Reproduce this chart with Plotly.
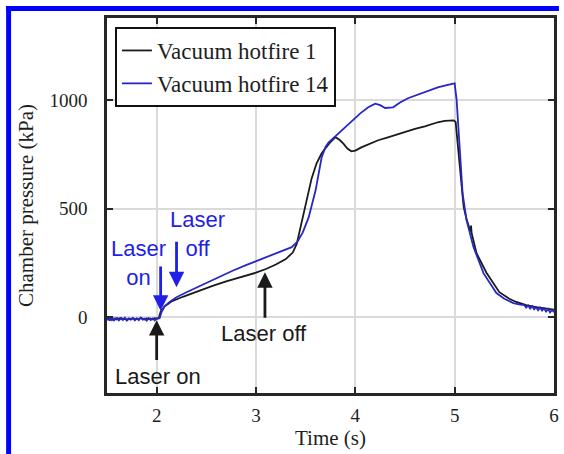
import plotly.graph_objects as go

# ---- data: chamber pressure traces (time in s, pressure in kPa) ----
t_hf1 = [1.50, 1.52, 1.54, 1.56, 1.58, 1.60, 1.62, 1.64, 1.66, 1.68, 1.70, 1.72, 1.74,
         1.76, 1.78, 1.80, 1.82, 1.84, 1.86, 1.88, 1.90, 1.92, 1.94, 1.96, 1.98, 2.00,
         2.02, 2.04, 2.08, 2.15, 2.27, 2.40, 2.57, 2.70, 2.84, 3.00, 3.10, 3.20, 3.30,
         3.37, 3.41, 3.45, 3.50, 3.56, 3.61, 3.66, 3.70, 3.75, 3.80, 3.84, 3.88, 3.92,
         3.96, 4.00, 4.06, 4.15, 4.23, 4.32, 4.40, 4.53, 4.60, 4.70, 4.83, 4.90, 4.99,
         5.01, 5.03, 5.06, 5.09, 5.12, 5.15, 5.16, 5.165, 5.17, 5.22, 5.32, 5.45, 5.55,
         5.62, 5.72, 5.82, 5.90, 6.00]
p_hf1 = [-7, -10, -5, -9, -6, -11, -7, -4, -9, -8, -12, -6, -9,
         -5, -10, -7, -9, -4, -8, -11, -6, -9, -7, -10, -5, -8,
         -6, 25, 50, 72, 95, 118, 145, 165, 183, 205, 222, 243, 268,
         298, 338, 420, 530, 640, 710, 755, 780, 808, 830, 818, 800, 778,
         765, 768, 783, 800, 816, 828, 840, 857, 868, 880, 899, 905, 908,
         900, 800, 645, 510, 450, 405, 395, 422, 390, 295, 205, 115, 85,
         70, 55, 46, 40, 35]

t_hf14 = [1.50, 1.51, 1.52, 1.53, 1.54, 1.55, 1.56, 1.57, 1.58, 1.59, 1.60, 1.62, 1.64,
          1.66, 1.68, 1.70, 1.72, 1.74, 1.76, 1.78, 1.80, 1.82, 1.84, 1.86, 1.88, 1.90,
          1.92, 1.94, 1.96, 1.98, 2.00, 2.03, 2.05, 2.08, 2.13, 2.20, 2.30, 2.44, 2.60,
          2.77, 2.90, 3.06, 3.20, 3.36, 3.42, 3.47, 3.53, 3.60, 3.66, 3.70, 3.73, 3.80,
          3.88, 3.96, 4.05, 4.13, 4.20, 4.25, 4.30, 4.38, 4.45, 4.53, 4.65, 4.75, 4.83,
          4.92, 5.00, 5.02, 5.04, 5.06, 5.08, 5.12, 5.19, 5.29, 5.42, 5.50, 5.59, 5.66,
          5.70, 5.72, 5.74, 5.76, 5.78, 5.80, 5.82, 5.84, 5.86, 5.88, 5.90, 5.92, 5.94,
          5.96, 5.98, 6.00]
p_hf14 = [-4, -14, -6, -16, -3, -13, -7, -17, -5, -12, -2, -15, -6,
          -13, -3, -16, -8, -12, -4, -15, -6, -14, -2, -12, -7, -16,
          -4, -13, -6, -15, -5, -5, 25, 50, 70, 92, 115, 145, 180,
          215, 240, 268, 292, 323, 350, 390, 460, 585, 735, 785, 805, 835,
          870, 905, 940, 968, 985, 978, 965, 968, 990, 1010, 1030, 1048, 1060,
          1070, 1078, 1000, 850, 700, 570, 447, 323, 203, 111, 85, 65, 58,
          56, 44, 54, 40, 50, 36, 46, 32, 44, 30, 40, 26, 38,
          22, 33, 23]

series_names = ["Vacuum hotfire 1", "Vacuum hotfire 14"]
x_ticks = [2, 3, 4, 5, 6]
y_ticks = [0, 500, 1000]
y_tick_labels = ["0", "500", "1000"]

BLACK = "#1a1a1a"
BLUE_LINE = "#2727c4"
BLUE_TEXT = "#1f1fe6"
FRAME_BLUE = "#0000ff"
TEXT = "#1e1e1e"

# plot-area geometry in pixels
W_FIG, H_FIG = 564, 454
L, R, T, B = 107, 559, 18, 393


def px_x(px):
    return (px - L) / (R - L)


def px_y(py):
    return (B - py) / (B - T)


fig = go.Figure()
fig.add_trace(go.Scatter(x=t_hf1, y=p_hf1, mode="lines", name=series_names[0],
                         line=dict(color=BLACK, width=1.8)))
fig.add_trace(go.Scatter(x=t_hf14, y=p_hf14, mode="lines", name=series_names[1],
                         line=dict(color=BLUE_LINE, width=1.8)))

serif = "Liberation Serif"
sans = "Liberation Sans"

axis_common = dict(
    showline=True, linecolor="#262626", linewidth=2.5, mirror="ticks",
    ticks="inside", ticklen=6, tickwidth=2, tickcolor="#262626",
    showgrid=True, gridcolor="#dadada", gridwidth=1.5, zeroline=False,
    tickfont=dict(family=serif, size=19, color=TEXT),
)

fig.update_layout(
    width=W_FIG, height=H_FIG,
    margin=dict(l=L, r=W_FIG - R, t=T, b=H_FIG - B),
    paper_bgcolor="white", plot_bgcolor="white",
    xaxis=dict(range=[1.5, 6], tickvals=x_ticks, ticklabelstandoff=3,
               title=dict(text="Time (s)", font=dict(family=serif, size=21, color=TEXT),
                          standoff=5),
               **axis_common),
    yaxis=dict(range=[-350, 1380], tickvals=y_ticks, ticktext=y_tick_labels,
               ticklabelstandoff=13,
               title=dict(text="Chamber pressure (kPa)",
                          font=dict(family=serif, size=21, color=TEXT), standoff=11),
               **axis_common),
    legend=dict(x=px_x(115), y=px_y(27), xanchor="left", yanchor="top",
                bgcolor="white", bordercolor="#111111", borderwidth=2,
                font=dict(family=serif, size=23, color=TEXT),
                tracegroupgap=0, itemwidth=30),
    showlegend=True,
)

# blue frame along the top and left edges of the figure
fig.add_shape(type="rect", xref="paper", yref="paper",
              x0=px_x(5), x1=px_x(564), y0=px_y(11), y1=px_y(6),
              fillcolor=FRAME_BLUE, line=dict(width=0), layer="above")
fig.add_shape(type="rect", xref="paper", yref="paper",
              x0=px_x(5), x1=px_x(10), y0=px_y(454), y1=px_y(6),
              fillcolor=FRAME_BLUE, line=dict(width=0), layer="above")

# event markers: arrows
arrows = [
    # (x tip, y tip, y tail, colour)
    (2.0, -14, -205, BLACK),      # laser on, hotfire 1
    (3.09, 207, -10, BLACK),      # laser off, hotfire 1
    (2.04, 30, 240, BLUE_TEXT),   # laser on, hotfire 14
    (2.20, 138, 355, BLUE_TEXT),  # laser off, hotfire 14
]
for xt, yt, ytail, col in arrows:
    fig.add_annotation(x=xt, y=yt, ax=xt, ay=ytail, axref="x", ayref="y",
                       text="", showarrow=True, arrowhead=2, arrowsize=1.1,
                       arrowwidth=2.8, arrowcolor=col)

# event markers: labels
labels = [
    (2.01, -276, "Laser on", BLACK),
    (3.08, -74, "Laser off", BLACK),
    (1.82, 249, "Laser<br>on", BLUE_TEXT),
    (2.41, 382, "Laser<br>off", BLUE_TEXT),
]
for xl, yl, txt, col in labels:
    fig.add_annotation(x=xl, y=yl, text=txt, showarrow=False,
                       font=dict(family=sans, size=22, color=col),
                       align="center", xanchor="center", yanchor="middle")

fig.write_html("out.html")
